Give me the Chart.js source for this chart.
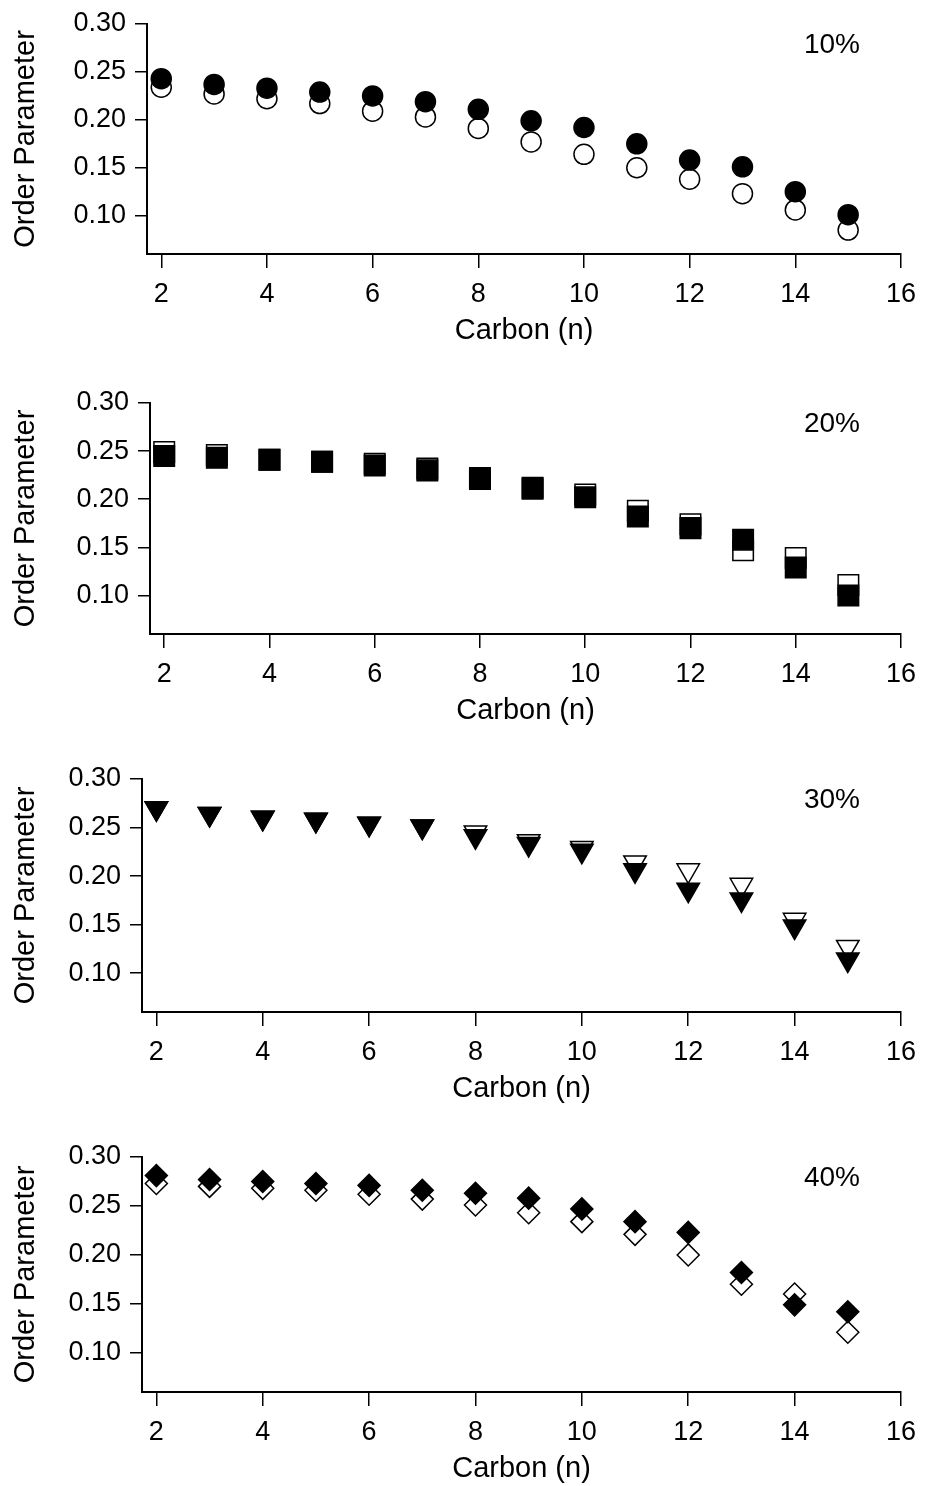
<!DOCTYPE html>
<html>
<head>
<meta charset="utf-8">
<script src="https://cdn.jsdelivr.net/npm/chart.js@4.4.1/dist/chart.umd.min.js"></script>
<style>
  html, body { margin: 0; padding: 0; background: #fff; }
  body { width: 926px; height: 1486px; position: relative; overflow: hidden; }
  .panel { position: absolute; left: 0; width: 926px; }
</style>
</head>
<body>
<div id="wrap"></div>
<script>
// carbon positions along the chain
const CARBON = [2, 3, 4, 5, 6, 7, 8, 9, 10, 11, 12, 13, 14, 15];
const X_TICKS = [2, 4, 6, 8, 10, 12, 14, 16];
const Y_TICKS = [0.10, 0.15, 0.20, 0.25, 0.30];
const LABELS = ['10%', '20%', '30%', '40%'];

// order parameter, filled and open symbols
const P10_FILLED = [0.243, 0.237, 0.233, 0.229, 0.225, 0.219, 0.211, 0.199, 0.192, 0.175, 0.158, 0.151, 0.125, 0.101];
const P10_OPEN   = [0.234, 0.227, 0.222, 0.217, 0.209, 0.203, 0.191, 0.177, 0.164, 0.150, 0.138, 0.123, 0.106, 0.085];
const P20_FILLED = [0.245, 0.243, 0.241, 0.239, 0.235, 0.230, 0.221, 0.211, 0.202, 0.182, 0.170, 0.158, 0.129, 0.100];
const P20_OPEN   = [0.249, 0.246, 0.241, 0.239, 0.237, 0.232, 0.222, 0.212, 0.205, 0.188, 0.174, 0.147, 0.139, 0.111];
const P30_FILLED = [0.270, 0.264, 0.260, 0.258, 0.254, 0.251, 0.241, 0.233, 0.226, 0.206, 0.186, 0.176, 0.148, 0.114];
const P30_OPEN   = [0.270, 0.264, 0.260, 0.258, 0.254, 0.251, 0.245, 0.236, 0.229, 0.214, 0.206, 0.191, 0.155, 0.127];
const P40_FILLED = [0.281, 0.277, 0.275, 0.273, 0.271, 0.266, 0.263, 0.258, 0.247, 0.234, 0.223, 0.182, 0.149, 0.142];
const P40_OPEN   = [0.273, 0.270, 0.268, 0.266, 0.262, 0.257, 0.251, 0.243, 0.234, 0.221, 0.200, 0.170, 0.160, 0.121];

const SERIES = [
  [P10_FILLED, P10_OPEN],
  [P20_FILLED, P20_OPEN],
  [P30_FILLED, P30_OPEN],
  [P40_FILLED, P40_OPEN]
];

// marker look per panel
const MARKERS = [
  { style: 'circle', radius: 10, rotation: 0 },
  { style: 'rect', radius: 14.5, rotation: 0 },
  { style: 'triangle', radius: 13, rotation: 180 },
  { style: 'rectRot', radius: 11, rotation: 0 }
];

// plot area of each panel on the page
const AREAS = [
  { top: 24,   bottom: 254,  left: 147, right: 902 },
  { top: 403,  bottom: 634,  left: 150, right: 901 },
  { top: 779,  bottom: 1012, left: 142, right: 903 },
  { top: 1157, bottom: 1392, left: 142, right: 907 }
];

const FONT = '"Liberation Sans", Arial, Helvetica, sans-serif';
const X_AXIS_H = 94;
const TOP_PAD = 30;

const pctLabel = {
  id: 'pctLabel',
  afterDatasetsDraw(chart, args, opts) {
    const { ctx, chartArea } = chart;
    ctx.save();
    ctx.fillStyle = '#000';
    ctx.font = '28px ' + FONT;
    ctx.textAlign = 'center';
    ctx.textBaseline = 'middle';
    ctx.fillText(opts.text, chartArea.right - 69, chartArea.top + 21);
    ctx.restore();
  }
};

const wrap = document.getElementById('wrap');

AREAS.forEach((area, i) => {
  const div = document.createElement('div');
  div.className = 'panel';
  const top = area.top - TOP_PAD;
  const height = area.bottom + X_AXIS_H - top;
  div.style.top = top + 'px';
  div.style.height = height + 'px';
  const cv = document.createElement('canvas');
  div.appendChild(cv);
  wrap.appendChild(div);

  const m = MARKERS[i];
  const [filled, open] = SERIES[i];
  const mk = (vals, fill, label) => ({
    label,
    data: CARBON.map((c, k) => ({ x: c, y: vals[k] })),
    showLine: false,
    pointStyle: m.style,
    pointRadius: m.radius,
    pointRotation: m.rotation,
    pointBackgroundColor: fill,
    pointBorderColor: '#000',
    pointBorderWidth: 1.5,
    pointHoverRadius: m.radius
  });

  new Chart(cv, {
    type: 'scatter',
    data: {
      datasets: [mk(filled, '#000', 'filled'), mk(open, '#fff', 'open')]
    },
    options: {
      responsive: true,
      maintainAspectRatio: false,
      animation: false,
      events: [],
      layout: {
        autoPadding: false,
        padding: { top: TOP_PAD, left: 0, right: 926 - area.right, bottom: 0 }
      },
      scales: {
        x: {
          type: 'linear',
          min: 1.73,
          max: 16,
          afterBuildTicks: s => { s.ticks = X_TICKS.map(v => ({ value: v })); },
          afterFit: s => { s.height = X_AXIS_H; },
          ticks: {
            color: '#000',
            font: { family: FONT, size: 27 },
            padding: 10,
            maxRotation: 0,
            autoSkip: false,
            callback: v => String(v)
          },
          grid: { drawOnChartArea: false, tickLength: 14, color: '#000', lineWidth: 1.5 },
          border: { color: '#000', width: 2 },
          title: {
            display: true,
            text: 'Carbon (n)',
            color: '#000',
            font: { family: FONT, size: 29 },
            padding: { top: 0, bottom: 0 }
          }
        },
        y: {
          type: 'linear',
          min: 0.06,
          max: 0.30,
          afterBuildTicks: s => { s.ticks = Y_TICKS.map(v => ({ value: v })); },
          afterFit: s => { s.width = area.left; },
          ticks: {
            color: '#000',
            font: { family: FONT, size: 27 },
            padding: 9,
            autoSkip: false,
            callback: v => Number(v).toFixed(2)
          },
          grid: { drawOnChartArea: false, tickLength: 12, color: '#000', lineWidth: 1.5 },
          border: { color: '#000', width: 2 },
          title: {
            display: true,
            text: 'Order Parameter',
            color: '#000',
            font: { family: FONT, size: 29 },
            padding: { top: 9, bottom: 0 }
          }
        }
      },
      plugins: {
        legend: { display: false },
        tooltip: { enabled: false },
        pctLabel: { text: LABELS[i] }
      }
    },
    plugins: [pctLabel]
  });
});
</script>
</body>
</html>
